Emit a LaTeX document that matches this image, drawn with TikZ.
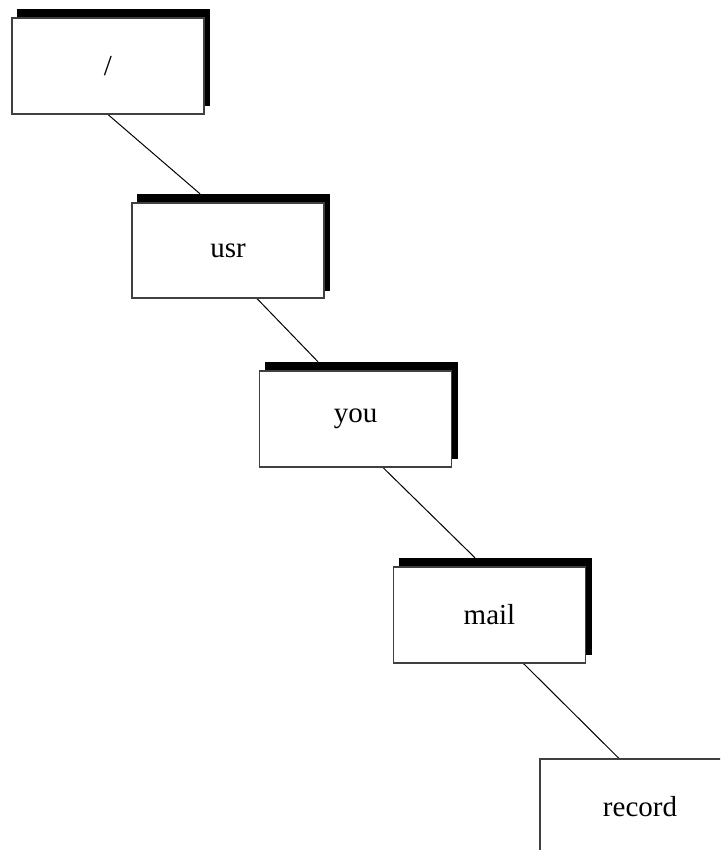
\documentclass[tikz,border=0pt]{standalone}
\usepackage{fontspec}
\setmainfont{Liberation Serif}
\usetikzlibrary{calc,backgrounds}
\tikzset{
  dirbox/.style={draw=black!75, line width=1.1pt, fill=white, minimum width=192pt, minimum height=96pt, inner sep=0pt, font=\fontsize{29}{33}\selectfont},
  dirshadow/.style={fill=black, minimum width=193pt, minimum height=97pt, inner sep=0pt},
  link/.style={line width=1pt, black}
}
\begin{document}
\begin{tikzpicture}[x=1pt,y=-1pt]
\clip (0,0) rectangle (720,850);
% shadows
\node[dirshadow] (s1) at (113.5,58) {};
\node[dirshadow] (s2) at (233.5,242.5) {};
\node[dirshadow] (s3) at (361,410.5) {};
\node[dirshadow] (s4) at (495,606.5) {};
% boxes
\node[dirbox] (root) at (108,66) {/};
\node[dirbox, minimum height=95pt] (usr) at (228,250.5) {usr};
\node[dirbox] (you) at (355.5,419) {you};
\node[dirbox] (mail) at (489.5,615) {mail};
\node[dirbox, minimum width=200pt, minimum height=100pt] (record) at (640,809) {\raisebox{6pt}{record}};
% connectors, behind the boxes
\begin{pgfonlayer}{background}
\draw[link] (root.south) -- ($(s2.north)+(-33.5,0)$);
\draw[link] ($(usr.south)+(29,0)$) -- ($(s3.north)+(-43,0)$);
\draw[link] ($(you.south)+(27.5,0)$) -- ($(s4.north)+(-20,0)$);
\draw[link] ($(mail.south)+(34,0)$) -- ($(record.north)+(-21,0)$);
\end{pgfonlayer}
\end{tikzpicture}
\end{document}
